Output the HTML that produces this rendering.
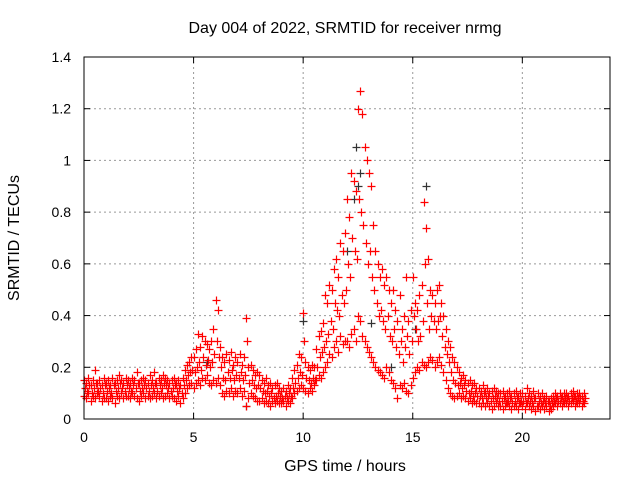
<!DOCTYPE html>
<html><head><meta charset="utf-8"><style>
body{margin:0;background:#fff}
svg{display:block;font-family:"Liberation Sans",sans-serif;font-size:14px}
.big{font-size:16px}
</style></head><body>
<svg id="chart" width="640" height="480">
<text class="big" x="345" y="33" text-anchor="middle">Day 004 of 2022, SRMTID for receiver nrmg</text>
<text class="big" x="345" y="471" text-anchor="middle">GPS time / hours</text>
<text class="big" transform="translate(19,238) rotate(-90)" text-anchor="middle">SRMTID / TECUs</text>
<g id="grid"></g>
<g id="axes"></g>
<g id="black"></g>
<g id="red"></g>
<rect x="84" y="57" width="526" height="362" fill="none" stroke="#000"/>
</svg>
<script>
const xTicks=[0,5,10,15,20];
const yTicks=[0,0.2,0.4,0.6,0.8,1,1.2,1.4];
const yTickLabels=["0","0.2","0.4","0.6","0.8","1","1.2","1.4"];
const tStep=0.1;
const redLo=[.09,.08,.10,.07,.09,.08,.10,.09,.07,.08,.08,.07,.09,.08,.06,.09,.08,.10,.08,.09,.09,.08,.10,.09,.08,.07,.09,.10,.08,.09,.08,.09,.10,.08,.09,.10,.08,.09,.10,.08,.09,.08,.07,.09,.06,.08,.10,.12,.13,.14,.12,.14,.15,.13,.16,.15,.17,.14,.13,.15,.14,.16,.13,.10,.09,.11,.10,.12,.09,.11,.10,.12,.09,.11,.05,.08,.10,.09,.08,.07,.07,.08,.06,.07,.06,.05,.07,.06,.07,.06,.06,.07,.05,.07,.06,.08,.10,.11,.12,.13,.12,.11,.10,.12,.11,.13,.15,.17,.16,.18,.20,.22,.25,.24,.28,.30,.26,.32,.29,.30,.30,.28,.33,.35,.30,.40,.38,.32,.30,.28,.26,.24,.22,.20,.19,.18,.17,.16,.20,.18,.15,.14,.12,.08,.13,.12,.14,.11,.10,.13,.16,.18,.20,.19,.22,.21,.20,.22,.24,.23,.20,.22,.24,.21,.18,.15,.12,.10,.09,.08,.09,.10,.08,.09,.08,.07,.08,.06,.07,.06,.06,.05,.06,.05,.06,.05,.04,.05,.06,.05,.05,.04,.05,.06,.05,.04,.05,.05,.04,.06,.05,.04,.06,.05,.04,.05,.03,.05,.04,.05,.04,.05,.03,.04,.05,.06,.05,.06,.05,.06,.06,.05,.06,.07,.05,.06,.06,.05,.06];
const redMid=[.12,.11,.13,.10,.12,.14,.11,.12,.10,.13,.11,.12,.10,.13,.11,.12,.14,.12,.11,.13,.12,.11,.13,.12,.14,.11,.12,.13,.12,.11,.13,.12,.14,.11,.13,.12,.14,.13,.12,.11,.12,.13,.11,.12,.10,.13,.15,.17,.18,.19,.18,.20,.22,.19,.24,.21,.23,.20,.22,.25,.30,.24,.20,.16,.15,.18,.16,.19,.15,.17,.16,.18,.15,.17,.30,.14,.15,.13,.12,.13,.12,.11,.10,.11,.09,.10,.08,.09,.10,.09,.08,.09,.08,.10,.09,.12,.14,.16,.18,.17,.30,.16,.15,.14,.16,.15,.20,.24,.26,.28,.30,.33,.38,.35,.45,.42,.40,.48,.45,.50,.60,.55,.70,.65,.62,.85,.80,.75,.68,.60,.65,.55,.50,.45,.40,.42,.38,.35,.40,.32,.30,.35,.28,.25,.30,.22,.28,.32,.25,.30,.40,.35,.30,.32,.38,.60,.45,.35,.40,.38,.35,.38,.40,.32,.28,.25,.22,.18,.15,.14,.13,.14,.12,.13,.11,.10,.11,.09,.10,.09,.09,.08,.10,.08,.09,.07,.08,.09,.08,.07,.07,.08,.06,.07,.08,.06,.07,.08,.06,.07,.07,.06,.08,.07,.06,.08,.05,.07,.06,.07,.06,.07,.05,.06,.07,.08,.07,.08,.07,.08,.08,.07,.08,.09,.07,.08,.08,.07,.08];
const redHi=[.15,.14,.16,.13,.15,.19,.14,.15,.13,.16,.14,.15,.13,.16,.14,.15,.17,.15,.14,.16,.15,.14,.16,.15,.18,.14,.15,.16,.15,.14,.17,.15,.18,.14,.16,.15,.17,.16,.15,.14,.15,.16,.14,.15,.13,.16,.19,.21,.22,.24,.24,.27,.33,.28,.32,.30,.29,.27,.30,.35,.46,.42,.28,.24,.22,.25,.23,.26,.21,.24,.22,.25,.21,.24,.39,.20,.21,.19,.17,.18,.17,.15,.14,.16,.13,.14,.12,.13,.14,.12,.11,.12,.11,.13,.12,.16,.19,.21,.25,.24,.41,.22,.20,.19,.21,.20,.27,.32,.34,.37,.48,.45,.52,.50,.58,.62,.55,.68,.65,.72,.85,.78,.95,.92,.88,1.20,1.27,1.18,1.05,1.00,.95,.90,.75,.65,.60,.55,.58,.52,.55,.50,.45,.50,.42,.38,.48,.35,.40,.55,.38,.42,.55,.45,.42,.48,.52,.84,.74,.62,.50,.48,.45,.50,.52,.45,.40,.35,.30,.28,.24,.22,.20,.18,.16,.17,.15,.14,.15,.13,.14,.12,.12,.11,.13,.11,.12,.10,.11,.12,.11,.10,.10,.11,.09,.10,.11,.09,.10,.11,.09,.10,.10,.09,.12,.10,.09,.11,.08,.10,.09,.10,.08,.09,.07,.08,.09,.10,.09,.10,.09,.10,.10,.09,.10,.11,.09,.10,.10,.09,.10];
const blackT=[5.6,7.4,10.0,12.0,12.3,12.4,12.5,13.1,14.0,15.6,12.6,15.1];
const blackV=[0.22,0.05,0.38,0.65,0.85,1.05,0.90,0.37,0.20,0.90,0.95,0.35];
const X0=84,X1=610,Y0=419,Y1=57,XMAX=24,YMAX=1.4;
const sx=t=>X0+t/XMAX*(X1-X0);
const sy=v=>Y0-v/YMAX*(Y0-Y1);
const NS="http://www.w3.org/2000/svg";
function mk(tag,attrs,parent){const e=document.createElementNS(NS,tag);for(const k in attrs)e.setAttribute(k,attrs[k]);parent.appendChild(e);return e;}
const grid=document.getElementById('grid'),axes=document.getElementById('axes');
xTicks.forEach((t,i)=>{const x=sx(t);
 if(t>0){const l=mk('line',{x1:x,x2:x,y1:Y1,y2:Y0,stroke:'#999','stroke-dasharray':'2,3'},grid);}
 mk('line',{x1:x,x2:x,y1:Y0,y2:Y0-6,stroke:'#000'},axes);mk('line',{x1:x,x2:x,y1:Y1,y2:Y1+6,stroke:'#000'},axes);
 const tx=mk('text',{x:x,y:Y0+23,'text-anchor':'middle'},axes);tx.textContent=t;
 
 });
yTicks.forEach((v,i)=>{const y=sy(v);
 if(v>0&&v<YMAX){const l=mk('line',{x1:X0,x2:X1,y1:y,y2:y,stroke:'#999','stroke-dasharray':'2,3'},grid);}
 mk('line',{x1:X0,x2:X0+6,y1:y,y2:y,stroke:'#000'},axes);mk('line',{x1:X1,x2:X1-6,y1:y,y2:y,stroke:'#000'},axes);
 const tx=mk('text',{x:X0-13,y:y+5,'text-anchor':'end'},axes);tx.textContent=yTickLabels[i];
 
 });
function plus(g,t,v,c){const x=Math.round(sx(t))+0.5,y=Math.round(sy(v))+0.5;
 const p=mk('path',{d:`M${x-4},${y}H${x+4}M${x},${y-4}V${y+4}`,stroke:c,'stroke-width':1.2,fill:'none'},g);
 
 }
const blk=document.getElementById('black');
blackT.forEach((t,i)=>plus(blk,t,blackV[i],'#333'));
const red=document.getElementById('red');
redLo.forEach((v,i)=>plus(red,i*tStep,v,'#f00'));
redMid.forEach((v,i)=>plus(red,i*tStep+0.05,v,'#f00'));
redHi.forEach((v,i)=>plus(red,i*tStep,v,'#f00'));
</script>
</body></html>
